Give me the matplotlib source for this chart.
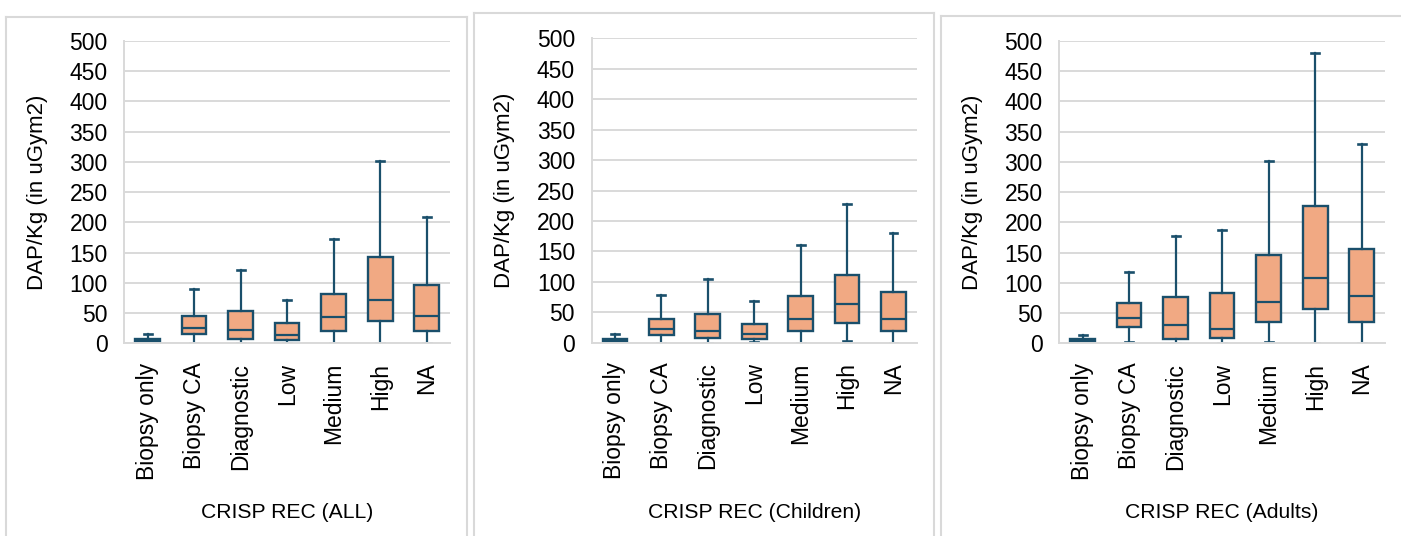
import matplotlib
matplotlib.use("Agg")
import matplotlib.pyplot as plt
from matplotlib.lines import Line2D

plt.rcParams['font.family'] = ['Liberation Sans', 'DejaVu Sans']

categories = ["Biopsy only", "Biopsy CA", "Diagnostic", "Low", "Medium", "High", "NA"]
y_ticks = [0, 50, 100, 150, 200, 250, 300, 350, 400, 450, 500]
panel_titles = ["CRISP REC (ALL)", "CRISP REC (Children)", "CRISP REC (Adults)"]
y_label = "DAP/Kg (in uGym2)"

# ALL
all_min = [0, 0, 0, 1, 0, 0, 0]
all_q1 = [1, 15, 7, 5.5, 20, 37.5, 20.5]
all_med = [4, 25, 21.5, 14, 43.5, 72, 44.5]
all_q3 = [7, 45, 54, 33, 82, 143, 96]
all_max = [15, 89, 122, 71, 172, 301, 209]

# Children
ch_min = [0, 0, 0, 1, 0, 2.2, 0]
ch_q1 = [1, 12.5, 7, 6, 18.5, 33, 18.5]
ch_med = [4, 22, 20, 13.7, 39.5, 64, 39]
ch_q3 = [6.6, 39, 47, 30.7, 76, 112, 84]
ch_max = [14, 78, 105, 68.5, 160, 228, 181]

# Adults
ad_min = [0, 1.7, 0, 0, 1.7, 0, 0]
ad_q1 = [1, 26.5, 6.6, 9.4, 36, 57.5, 36]
ad_med = [4, 41.3, 30.3, 24.3, 69, 107.5, 79]
ad_q3 = [7, 66.7, 76, 82.7, 145.5, 227, 155.5]
ad_max = [13, 118.5, 177.5, 187.5, 301.5, 480, 330]

panels = [
    (all_min, all_q1, all_med, all_q3, all_max),
    (ch_min, ch_q1, ch_med, ch_q3, ch_max),
    (ad_min, ad_q1, ad_med, ad_q3, ad_max),
]

W, H = 1401, 536
fig = plt.figure(figsize=(W / 100, H / 100), dpi=100)

# axes pixel boxes: (left, top, right, bottom)
ax_boxes = [(124.3, 41, 450, 343.3), (591.7, 38.3, 916.7, 342.7), (1059.3, 41, 1385, 343.3)]
# panel frames: (left, top, right)
frames = [(6, 17, 467), (474, 13, 934), (941, 16, 1420)]

FILL = "#F1A983"
EDGE = "#1A4F6B"
GRID = "#D9D9D9"
FS = 16.5

for f in frames:
    l, t, r = f
    fig.add_artist(Line2D([l / W, l / W], [0, 1 - t / H], color=GRID, lw=1.5, transform=fig.transFigure))
    fig.add_artist(Line2D([l / W, r / W], [1 - t / H, 1 - t / H], color=GRID, lw=1.5, transform=fig.transFigure))
    fig.add_artist(Line2D([r / W, r / W], [0, 1 - t / H], color=GRID, lw=1.5, transform=fig.transFigure))

for i, (box, data) in enumerate(zip(ax_boxes, panels)):
    l, t, r, b = box
    ax = fig.add_axes([l / W, 1 - b / H, (r - l) / W, (b - t) / H])
    mins, q1s, meds, q3s, maxs = data
    stats = []
    for k, c in enumerate(categories):
        stats.append(dict(label=c, whislo=mins[k], q1=q1s[k], med=meds[k],
                          q3=q3s[k], whishi=maxs[k], fliers=[]))
    ax.bxp(stats, positions=list(range(len(categories))), widths=0.53,
           patch_artist=True, showfliers=False, capwidths=0.17,
           boxprops=dict(facecolor=FILL, edgecolor=EDGE, linewidth=1.7),
           medianprops=dict(color=EDGE, linewidth=1.6),
           whiskerprops=dict(color=EDGE, linewidth=1.6),
           capprops=dict(color=EDGE, linewidth=1.9))
    ax.set_xlim(-0.5, len(categories) - 0.5)
    ax.set_ylim(0, 500)
    ax.set_yticks(y_ticks)
    ax.set_yticklabels([str(v) for v in y_ticks])
    ax.set_xticks(range(len(categories)))
    ax.set_xticklabels(categories, rotation=90)
    ax.tick_params(axis='y', length=0, pad=12, labelsize=FS)
    ax.tick_params(axis='x', length=0, pad=14, labelsize=FS)
    ax.grid(axis='y', color=GRID, linewidth=1.4)
    ax.set_axisbelow(True)
    for s in ['top', 'right']:
        ax.spines[s].set_visible(False)
    for s in ['left', 'bottom']:
        ax.spines[s].set_color(GRID)
        ax.spines[s].set_linewidth(1.4)
    ax.spines['bottom'].set_zorder(5)
    cx = (l + r) / 2
    fig.text(cx / W, 1 - 513 / H, panel_titles[i], ha='center', va='center', fontsize=15.2)
    fig.text((l - 87) / W, 1 - ((t + b) / 2) / H, y_label, rotation=90,
             ha='center', va='center', fontsize=16)

fig.savefig("out.png", dpi=100)
